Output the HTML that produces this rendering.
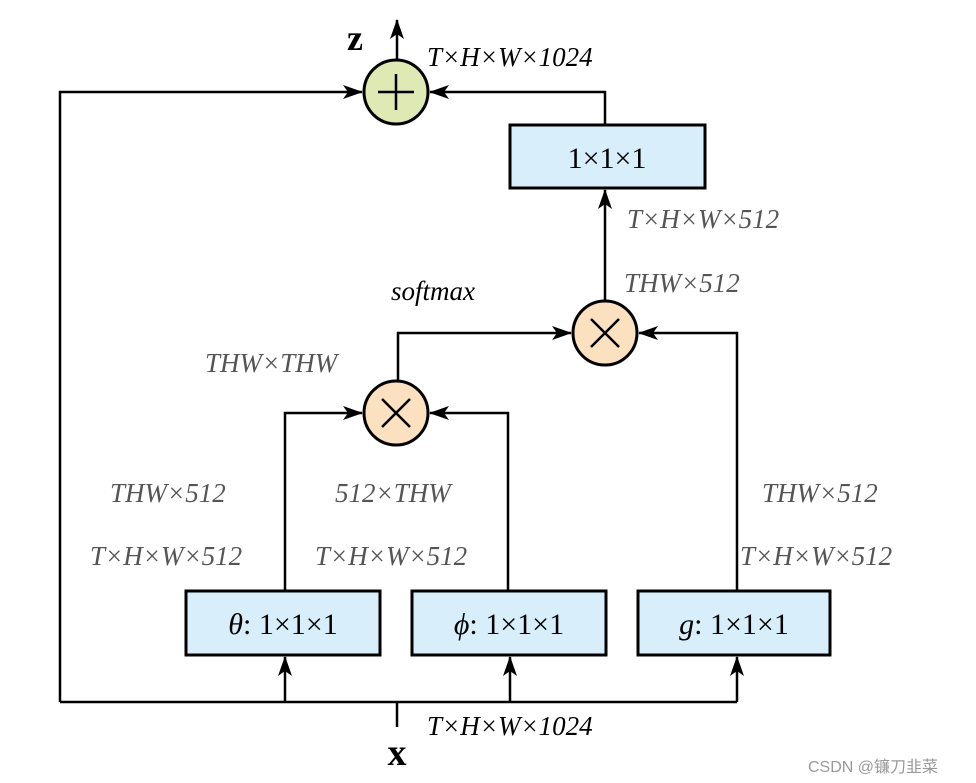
<!DOCTYPE html>
<html><head><meta charset="utf-8"><style>body{margin:0;background:#fff}svg{display:block}</style></head><body>
<svg width="976" height="783" viewBox="0 0 976 783" xmlns="http://www.w3.org/2000/svg">
<defs><marker id="a" markerWidth="10" markerHeight="10" refX="9" refY="5" orient="auto" markerUnits="userSpaceOnUse"><path d="M0,0 L10,5 L0,10 L3,5 Z" fill="#000"/></marker>
<marker id="b" markerWidth="20" markerHeight="14" refX="19" refY="7" orient="auto" markerUnits="userSpaceOnUse"><path d="M0,0 L20,7 L0,14 L5,7 Z" fill="#000"/></marker></defs>
<g fill="none" stroke="#000" stroke-width="2.5">
<path d="M60,702 H737"/>
<path d="M397,727 V702"/>
<path d="M60,702 V92 H362" marker-end="url(#b)"/>
<path d="M285,702 V657" marker-end="url(#b)"/>
<path d="M510,702 V657" marker-end="url(#b)"/>
<path d="M737,702 V657" marker-end="url(#b)"/>
<path d="M285,590 V413 H362" marker-end="url(#b)"/>
<path d="M508,590 V413 H430" marker-end="url(#b)"/>
<path d="M737,590 V333 H639" marker-end="url(#b)"/>
<path d="M398,381 V333 H571" marker-end="url(#b)"/>
<path d="M605,301 V190" marker-end="url(#b)"/>
<path d="M605,125 V92 H430" marker-end="url(#b)"/>
<path d="M397,60 V20" marker-end="url(#b)"/>
</g>
<g stroke="#000" stroke-width="3" fill="#d8effb">
<rect x="510" y="125" width="195" height="63"/>
<rect x="186" y="591" width="194" height="64"/>
<rect x="412" y="591" width="194" height="64"/>
<rect x="638" y="591" width="192" height="64"/>
</g>
<g stroke="#000" stroke-width="3">
<circle cx="396" cy="92" r="32" fill="#dfe9b4"/>
<circle cx="396" cy="413" r="32" fill="#fbe1c0"/>
<circle cx="605" cy="333" r="32" fill="#fbe1c0"/>
</g>
<g stroke="#000" stroke-width="2.5">
<path d="M378,92 H414 M396,74 V110"/>
<path d="M382,399 L410,427 M410,399 L382,427"/>
<path d="M591,319 L619,347 M619,319 L591,347"/>
</g>
<g font-family="Liberation Serif, serif" font-size="30" text-anchor="middle" fill="#000">
<text x="607" y="168">1×1×1</text>
<text x="283" y="634"><tspan font-style="italic">θ</tspan>: 1×1×1</text>
<text x="509" y="634"><tspan font-style="italic">ϕ</tspan>: 1×1×1</text>
<text x="734" y="634"><tspan font-style="italic">g</tspan>: 1×1×1</text>
<text x="355" y="50" font-weight="bold" font-size="36">z</text>
<text x="397" y="765" font-weight="bold" font-size="38">x</text>
</g>
<g font-family="Liberation Serif, serif" font-size="27" font-style="italic" fill="#000">
<text x="427" y="66">T×H×W×1024</text>
<text x="427" y="735">T×H×W×1024</text>
<text x="391" y="300">softmax</text>
</g>
<g font-family="Liberation Serif, serif" font-size="27" font-style="italic" fill="#555">
<text x="627" y="228">T×H×W×512</text>
<text x="624" y="292">THW×512</text>
<text x="205" y="372">THW×THW</text>
<text x="110" y="502">THW×512</text>
<text x="335" y="502">512×THW</text>
<text x="762" y="502">THW×512</text>
<text x="90" y="565">T×H×W×512</text>
<text x="315" y="565">T×H×W×512</text>
<text x="740" y="565">T×H×W×512</text>
</g>
<text x="808" y="772" font-family="Liberation Sans, Noto Sans CJK SC, sans-serif" font-size="16" fill="#999">CSDN @镰刀韭菜</text>
</svg>
</body></html>
